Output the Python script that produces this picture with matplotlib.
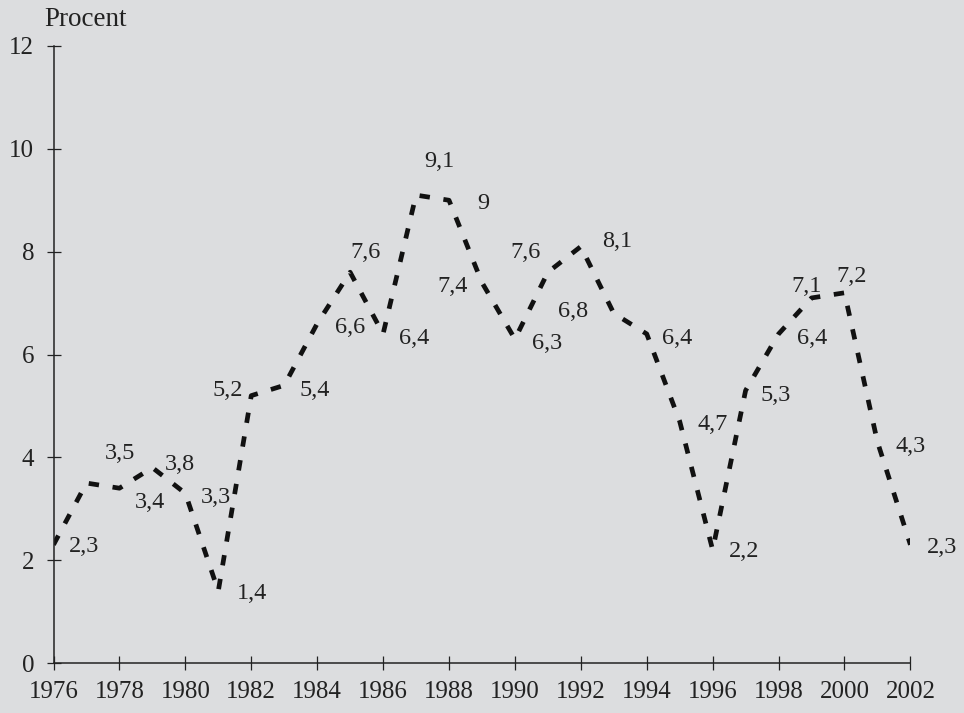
import matplotlib.pyplot as plt

years = list(range(1976, 2003))
values = [2.3, 3.5, 3.4, 3.8, 3.3, 1.4, 5.2, 5.4, 6.6, 7.6, 6.4, 9.1, 9.0, 7.4,
          6.3, 7.6, 8.1, 6.8, 6.4, 4.7, 2.2, 5.3, 6.4, 7.1, 7.2, 4.3, 2.3]

# label offsets in points, one per year
label_offsets = [(22, -1.5), (24.5, 21), (22, -10), (19.5, 2), (22, -3), (24.5, -1.5),
                 (-17, 3.5), (22, -4), (24, -3), (11, 14.5), (22, -3), (17, 24),
                 (25, -2), (-21, -3), (23, -3), (-16, 14), (26.5, 3.5), (-29, 1.5),
                 (22, -3), (24, -2), (23, -1.5), (22, -3.5), (24, -3), (-3.5, 8.5),
                 (5, 11.5), (24, -3), (23, -2)]

bg = '#dcdddf'
plt.rcParams['font.family'] = ['Liberation Serif', 'DejaVu Serif']

fig = plt.figure(figsize=(9.64, 7.13), dpi=100, facecolor=bg)
ax = fig.add_axes([0.0555, 0.0701, 0.8889, 0.8654], facecolor=bg)

ax.plot(years, values, color='#111111', linewidth=3.4,
        linestyle=(0, (2.2, 2.9)), dash_capstyle='butt')

for x, v, off in zip(years, values, label_offsets):
    txt = f"{v:g}".replace('.', ',')
    ax.annotate(txt, (x, v), xytext=off, textcoords='offset points',
                ha='center', va='center', fontsize=17.5, color='#222222',
                annotation_clip=False)

ax.set_xlim(1976, 2002)
ax.set_ylim(0, 12)
ax.set_xticks(range(1976, 2003, 2))
ax.set_yticks(range(0, 13, 2))
ax.tick_params(direction='inout', length=10, width=0.9, labelsize=18,
               colors='#222222')
ax.tick_params(axis='x', pad=8)
ax.tick_params(axis='y', pad=9)

for s in ['top', 'right']:
    ax.spines[s].set_visible(False)
for s in ['left', 'bottom']:
    ax.spines[s].set_color('#222222')
    ax.spines[s].set_linewidth(1.1)

fig.text(44 / 964, 1 - 20 / 713, 'Procent', ha='left', va='center',
         fontsize=19.5, color='#222222')

fig.savefig('out.png', dpi=100, facecolor=bg)
